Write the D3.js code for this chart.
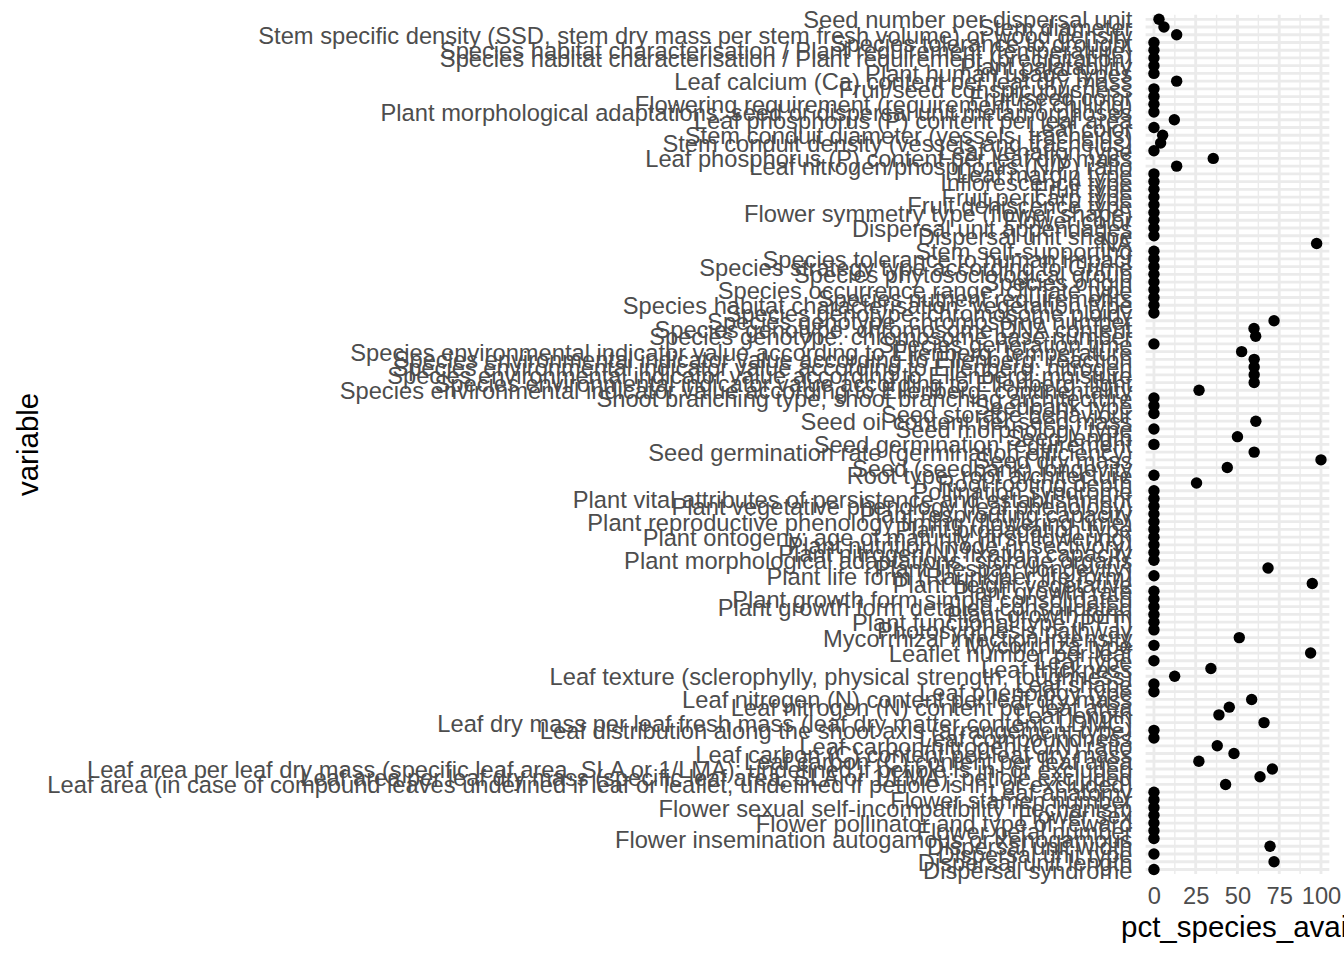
<!DOCTYPE html>
<html>
<head>
<meta charset="utf-8">
<script src="https://cdn.jsdelivr.net/npm/d3@7"></script>
<style>
  html, body { margin: 0; padding: 0; background: #ffffff; }
  svg { display: block; font-family: "Liberation Sans", Arial, Helvetica, sans-serif; }
</style>
</head>
<body>
<svg id="chart" width="1344" height="960"></svg>
<script>
// Categories, listed from top of the chart to bottom
const categories = [
  "Seed number per dispersal unit",
  "Stem diameter",
  "Stem specific density (SSD, stem dry mass per stem fresh volume) or wood density",
  "Species tolerance to drought",
  "Species habitat characterisation / Plant requirement (temperature)",
  "Species habitat characterisation / Plant requirement (precipitation)",
  "Plant palatability",
  "Plant human usage types",
  "Leaf calcium (Ca) content per leaf dry mass",
  "Fruit/seed conspicuousness",
  "Fruit/seed color",
  "Flowering requirement (requirement for chilling)",
  "Plant morphological adaptations: seed or dispersal unit metamorphoses",
  "Leaf phosphorus (P) content per leaf area",
  "Leaf color",
  "Stem conduit diameter (vessels, tracheids)",
  "Stem conduit density (vessels and tracheids)",
  "Leaf venation type",
  "Leaf phosphorus (P) content per leaf dry mass",
  "Leaf nitrogen/phosphorus (N/P) ratio",
  "Leaf margin type",
  "Inflorescence type",
  "Fruit type",
  "Fruit pericarp type",
  "Fruit dehiscence type",
  "Flower symmetry type (flower shape)",
  "Flower color",
  "Dispersal unit appendages",
  "Dispersal unit shape",
  "NA",
  "Stem self-supporting",
  "Species tolerance to human impact",
  "Species strategy type according to Grime",
  "Species phytosociological group",
  "Species origin",
  "Species occurrence range: climate type",
  "Species nutrient requirements",
  "Species habitat characterisation: vegetation type",
  "Species genotype: chromosome ploidy",
  "Species genotype: chromosome number",
  "Species genotype: chromosome DNA content",
  "Species genotype: chromosome base number",
  "Species generation time",
  "Species environmental indicator value according to Ellenberg: temperature",
  "Species environmental indicator value according to Ellenberg: reaction",
  "Species environmental indicator value according to Ellenberg: nitrogen",
  "Species environmental indicator value according to Ellenberg: moisture",
  "Species environmental indicator value according to Ellenberg: light",
  "Species environmental indicator value according to Ellenberg: continentality",
  "Shoot branching type, shoot branching architecture",
  "Seedbank type",
  "Seed storage behaviour",
  "Seed oil content per seed mass",
  "Seed morphology type",
  "Seed length",
  "Seed germination requirement",
  "Seed germination rate (germination efficiency)",
  "Seed dry mass",
  "Seed (seedbank) longevity",
  "Root type, root architecture",
  "Root rooting depth",
  "Pollination syndrome",
  "Plant vital attributes of persistence and establishment",
  "Plant vegetative phenology (leaf phenology)",
  "Plant resprouting capacity",
  "Plant reproductive phenology timing (flowering time)",
  "Plant propagation type",
  "Plant ontogeny: age of maturity (first flowering)",
  "Plant nutrition mode (insectivory)",
  "Plant nitrogen(N) fixation capacity",
  "Plant morphological adaptations: storage organs",
  "Plant lifespan (longevity)",
  "Plant life form (Raunkiaer life form)",
  "Plant height vegetative",
  "Plant growth rate",
  "Plant growth form simple consolidated",
  "Plant growth form detailed consolidated",
  "Plant growth form",
  "Plant functional type (PFT)",
  "Photosynthesis pathway",
  "Mycorrhizal infection intensity",
  "Mycorrhiza type",
  "Leaflet number per leaf",
  "Leaf type",
  "Leaf thickness",
  "Leaf texture (sclerophylly, physical strength, toughness)",
  "Leaf shape",
  "Leaf phenology type",
  "Leaf nitrogen (N) content per leaf dry mass",
  "Leaf nitrogen (N) content per leaf area",
  "Leaf length",
  "Leaf dry mass per leaf fresh mass (leaf dry matter content, LDMC)",
  "Leaf distribution along the shoot axis (arrangement type)",
  "Leaf compoundness",
  "Leaf carbon/nitrogen (C/N) ratio",
  "Leaf carbon (C) content per leaf dry mass",
  "Leaf carbon (C) content per leaf area",
  "Leaf area per leaf dry mass (specific leaf area, SLA or 1/LMA): undefined if petiole is in- or excluded",
  "Leaf area per leaf dry mass (specific leaf area, SLA or 1/LMA): petiole excluded",
  "Leaf area (in case of compound leaves undefined if leaf or leaflet, undefined if petiole is in- or excluded)",
  "Leaf anatomy",
  "Flower stamen number",
  "Flower sexual self-incompatibility mechanism",
  "Flower sex",
  "Flower pollinator and type of reward",
  "Flower petal number",
  "Flower insemination autogamous or xenogamous",
  "Dispersal unit width",
  "Dispersal unit type",
  "Dispersal unit length",
  "Dispersal syndrome"
];

// pct_species_available, same order as categories
const pctValues = [
  3, 6, 13.6, 0, 0, 0, 0, 0, 13.6, 0,
  0, 0, 0, 12.2, 0, 5.2, 4, 0, 35.5, 13.6,
  0, 0, 0, 0, 0, 0, 0, 0, 0, 97.4,
  0, 0, 0, 0, 0, 0, 0, 0, 0, 71.9,
  59.9, 60.9, 0, 52.5, 60, 60, 60, 60, 27, 0,
  0, 0, 61, 0, 50, 0, 60, 100, 43.9, 0,
  25.5, 0, 0, 0, 0, 0, 0, 0, 0, 0,
  0, 68.3, 0, 94.8, 0, 0, 0, 0, 0, 0,
  51.1, 0, 93.8, 0, 34.1, 12.4, 0, 0, 58.5, 45.1,
  38.9, 65.9, 0, 0, 37.9, 47.9, 26.9, 70.9, 63.5, 42.9,
  0, 0, 0, 0, 0, 0, 0, 69.5, 0, 71.9,
  0
];

const xTicks = [0, 25, 50, 75, 100];
const xMinorTicks = [12.5, 37.5, 62.5, 87.5];
const xTitle = "pct_species_avail";
const yTitle = "variable";

const data = categories.map((c, i) => ({ variable: c, pct: pctValues[i] }));

const svg = d3.select("#chart");
const W = 1344, H = 960;
svg.append("rect").attr("width", W).attr("height", H).attr("fill", "#ffffff");

const panel = { left: 1145.6, right: 1329.33, top: 14.67, bottom: 874.1 };
const x = d3.scaleLinear().domain([-5, 105]).range([panel.left, panel.right]);
const y = d3.scalePoint().domain(categories).range([panel.top, panel.bottom]).padding(0.6);

const gridColor = "#EBEBEB";
const grid = svg.append("g");
// minor vertical grid
grid.selectAll("line.vminor").data(xMinorTicks).join("line")
  .attr("x1", d => x(d)).attr("x2", d => x(d))
  .attr("y1", panel.top).attr("y2", panel.bottom)
  .attr("stroke", gridColor).attr("stroke-width", 1.42);
// major horizontal grid
grid.selectAll("line.hmajor").data(categories).join("line")
  .attr("x1", panel.left).attr("x2", panel.right)
  .attr("y1", d => y(d)).attr("y2", d => y(d))
  .attr("stroke", gridColor).attr("stroke-width", 2.84);
// major vertical grid
grid.selectAll("line.vmajor").data(xTicks).join("line")
  .attr("x1", d => x(d)).attr("x2", d => x(d))
  .attr("y1", panel.top).attr("y2", panel.bottom)
  .attr("stroke", gridColor).attr("stroke-width", 2.84);

// points
svg.append("g").selectAll("circle").data(data).join("circle")
  .attr("cx", d => x(d.pct))
  .attr("cy", d => y(d.variable))
  .attr("r", 5.7)
  .attr("fill", "#000000");

// y axis labels
const yAxis = d3.axisLeft(y).tickSize(0).tickPadding(13.2);
const gy = svg.append("g").attr("transform", `translate(${panel.left},0)`).call(yAxis);
gy.select(".domain").remove();
gy.selectAll("text")
  .attr("fill", "#4D4D4D")
  .style("font-size", "23.7px")
  .style("font-family", "'Liberation Sans', Arial, sans-serif")
  .attr("dy", "0.36em");

// x axis labels
const xAxis = d3.axisBottom(x).tickValues(xTicks).tickSize(0).tickPadding(0).tickFormat(d3.format("d"));
const gx = svg.append("g").attr("transform", `translate(0,${panel.bottom})`).call(xAxis);
gx.select(".domain").remove();
gx.selectAll("text")
  .attr("fill", "#4D4D4D")
  .attr("y", 904 - panel.bottom)
  .attr("dy", 0)
  .style("font-size", "23.7px")
  .style("font-family", "'Liberation Sans', Arial, sans-serif");

// titles
svg.append("text")
  .attr("x", (panel.left + panel.right) / 2)
  .attr("y", 937)
  .attr("text-anchor", "middle")
  .attr("fill", "#000000")
  .style("font-size", "29.5px")
  .text(xTitle);

svg.append("text")
  .attr("transform", `translate(37.5,${(panel.top + panel.bottom) / 2}) rotate(-90)`)
  .attr("text-anchor", "middle")
  .attr("fill", "#000000")
  .style("font-size", "29.5px")
  .text(yTitle);
</script>
</body>
</html>
